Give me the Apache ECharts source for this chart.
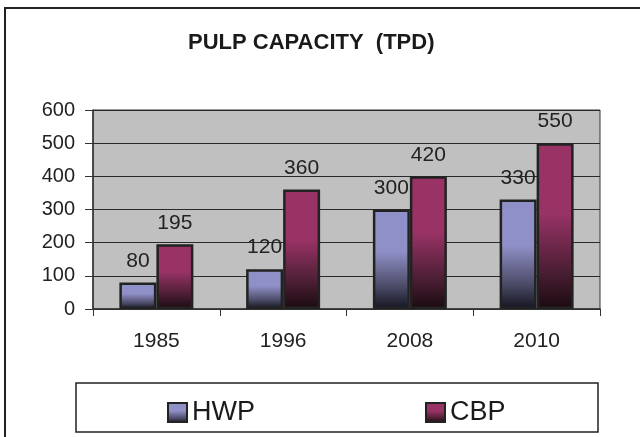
<!DOCTYPE html>
<html>
<head>
<meta charset="utf-8">
<script src="https://cdn.jsdelivr.net/npm/echarts@6/dist/echarts.min.js"></script>
<style>
  html, body { margin: 0; padding: 0; background: #fff; }
  #chart { width: 640px; height: 437px; }
</style>
</head>
<body>
<div id="chart"></div>
<script>
const years = ['1985', '1996', '2008', '2010']
const hwpValues = [80, 120, 300, 330]
const cbpValues = [195, 360, 400, 500]
// labels printed on the original (the last two CBP bars are drawn lower than labelled)
const hwpLabels = ['80', '120', '300', '330']
const cbpLabels = ['195', '360', '420', '550']
const yTicks = [0, 100, 200, 300, 400, 500, 600]

const myChart = echarts.init(document.getElementById('chart'))

const grad = (light, mid, dark) => new echarts.graphic.LinearGradient(0, 0, 0, 1, [
  { offset: 0, color: light },
  { offset: 0.42, color: light },
  { offset: 0.78, color: mid },
  { offset: 1, color: dark }
])

const labelStyle = (labels) => ({
  show: true,
  position: 'top',
  distance: 11,
  fontFamily: 'Liberation Sans',
  fontSize: 21,
  color: '#222',
  formatter: (p) => labels[p.dataIndex]
})

let option = {
  backgroundColor: '#fff',
  animation: false,
  title: {
    text: 'PULP CAPACITY  (TPD)',
    left: 183,
    top: 27,
    textStyle: {
      fontFamily: 'Liberation Sans',
      fontWeight: 'bold',
      fontSize: 22,
      color: '#1a1a1a'
    }
  },
  graphic: [
    // outer frame, runs off the right and bottom edges
    { type: 'rect', shape: { x: 5, y: 8, width: 660, height: 460 },
      style: { fill: 'none', stroke: '#222', lineWidth: 2 }, silent: true },
    // legend box
    { type: 'rect', shape: { x: 76, y: 383, width: 522, height: 49 },
      style: { fill: '#fff', stroke: '#222', lineWidth: 1.5 }, silent: true }
  ],
  legend: {
    data: ['HWP', 'CBP'],
    icon: 'rect',
    left: 162,
    top: 394,
    itemWidth: 19,
    itemHeight: 19,
    itemGap: 170,
    textStyle: {
      fontFamily: 'Liberation Sans',
      fontSize: 27,
      color: '#1a1a1a',
      padding: [4, 0, 0, 0]
    },
    z: 10
  },
  grid: {
    left: 93,
    right: 40,
    top: 110,
    bottom: 128,
    show: true,
    backgroundColor: '#c0c0c0',
    borderColor: '#333',
    borderWidth: 1
  },
  xAxis: {
    type: 'category',
    data: years,
    axisLine: { lineStyle: { color: '#333', width: 1.5 } },
    axisTick: { show: true, length: 7, lineStyle: { color: '#333' } },
    axisLabel: {
      margin: 22,
      fontFamily: 'Liberation Sans',
      fontSize: 21,
      color: '#222'
    }
  },
  yAxis: {
    type: 'value',
    min: yTicks[0],
    max: yTicks[yTicks.length - 1],
    interval: 100,
    axisLine: { show: true, lineStyle: { color: '#333', width: 1.5 } },
    axisTick: { show: true, length: 8, lineStyle: { color: '#333' } },
    splitLine: { lineStyle: { color: '#2a2a2a', width: 1 } },
    axisLabel: {
      margin: 18,
      fontFamily: 'Liberation Sans',
      fontSize: 20,
      color: '#222'
    }
  },
  series: [
    {
      name: 'HWP',
      type: 'bar',
      data: hwpValues,
      barWidth: 37,
      barGap: '0%',
      itemStyle: {
        color: grad('#9090c8', '#4a4a66', '#14141e'),
        borderColor: '#222',
        borderWidth: 2.5
      },
      label: labelStyle(hwpLabels)
    },
    {
      name: 'CBP',
      type: 'bar',
      data: cbpValues,
      barWidth: 37,
      itemStyle: {
        color: grad('#993366', '#4a1e33', '#1a0a10'),
        borderColor: '#222',
        borderWidth: 2.5
      },
      label: labelStyle(cbpLabels)
    }
  ]
}
myChart.setOption(option)
</script>
</body>
</html>
